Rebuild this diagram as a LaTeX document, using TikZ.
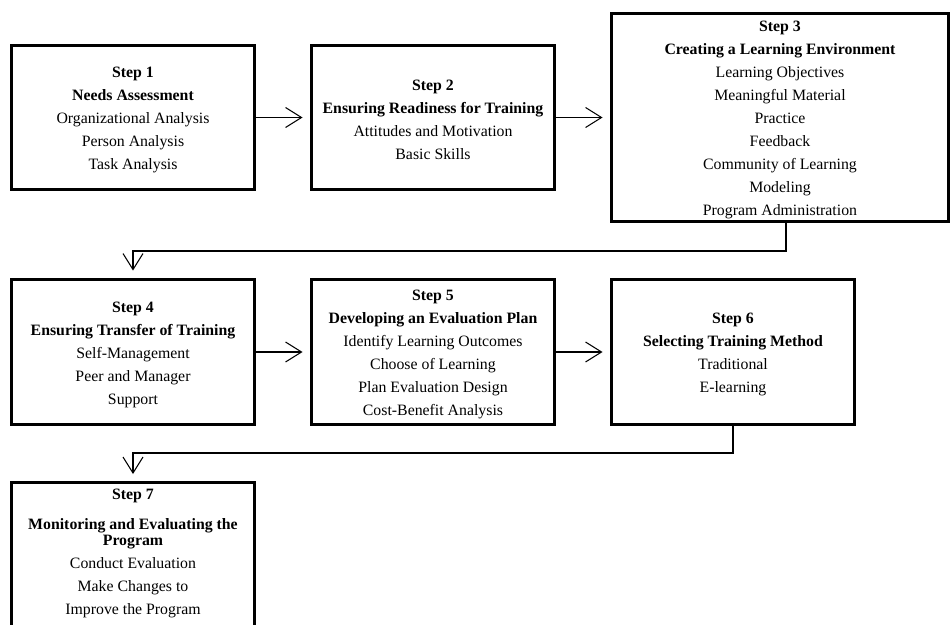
\documentclass[tikz,border=0pt]{standalone}
\usepackage{fontspec}
\setmainfont{Liberation Serif}
\usetikzlibrary{arrows.meta}

% step number and title, with a strut to sit the text a bit lower
\newcommand{\stephead}[2]{\rule{0pt}{9pt}\textbf{Step #1}\\ \textbf{#2}}

\begin{document}
\begin{tikzpicture}[
    x=0.02cm, y=-0.02cm,
    stepbox/.style={draw, line width=1.7pt, align=center, inner sep=0pt,
        font=\fontsize{9}{13.1}\selectfont},
    conn/.style={line width=0.6pt, shorten >=0.14cm,
        -{Straight Barb[length=0.32cm, width=0.4cm]}},
]

% Page frame
\clip (0, 0) rectangle (951, 625);

% Row 1
\node[stepbox, minimum width=4.88cm, minimum height=2.9cm] (b1) at (133, 117.5)
    {\stephead{1}{Needs Assessment}\\ Organizational Analysis\\
     Person Analysis\\ Task Analysis};
\node[stepbox, minimum width=4.88cm, minimum height=2.9cm] (b2) at (433, 117.5)
    {\stephead{2}{Ensuring Readiness for Training}\\
     Attitudes and Motivation\\ Basic Skills};
\node[stepbox, minimum width=6.76cm, minimum height=4.18cm] (b3) at (780, 117.5)
    {\stephead{3}{Creating a Learning Environment}\\
     Learning Objectives\\ Meaningful Material\\ Practice\\ Feedback\\
     Community of Learning\\ Modeling\\ Program Administration};

% Row 2
\node[stepbox, minimum width=4.88cm, minimum height=2.92cm] (b4) at (133, 352)
    {\stephead{4}{Ensuring Transfer of Training}\\
     Self-Management\\ Peer and Manager\\ Support};
\node[stepbox, minimum width=4.88cm, minimum height=2.92cm] (b5) at (433, 352)
    {\stephead{5}{Developing an Evaluation Plan}\\
     Identify Learning Outcomes\\ Choose of Learning\\
     Plan Evaluation Design\\ Cost-Benefit Analysis};
\node[stepbox, minimum width=4.88cm, minimum height=2.92cm] (b6) at (733, 352)
    {\stephead{6}{Selecting Training Method}\\
     Traditional\\ E-learning};

% Row 3 (runs off the page)
\node[stepbox, minimum width=4.88cm, minimum height=3cm, anchor=north,
    text depth=6.5pt] (b7) at (133, 481)
    {\textbf{Step 7}\\[4.5pt] \textbf{Monitoring and Evaluating the}\\[-4pt]
     \textbf{Program}\\ Conduct Evaluation\\ Make Changes to\\
     Improve the Program};

% Arrows along the rows
\draw[conn] (b1) -- (b2);
\draw[conn] (b2.east) -- (b2.east -| b3.west);
\draw[conn] (b4) -- (b5);
\draw[conn] (b5) -- (b6);

% Elbows down to the next row
\coordinate (t3) at (786, 251);
\draw[conn] (b3.south -| t3) -- (t3) -- (t3 -| b4.north) -- (b4.north);
\coordinate (t6) at (733, 453);
\draw[conn] (b6.south) -- (t6) -- (t6 -| b7.north) -- (b7.north);

\end{tikzpicture}
\end{document}
